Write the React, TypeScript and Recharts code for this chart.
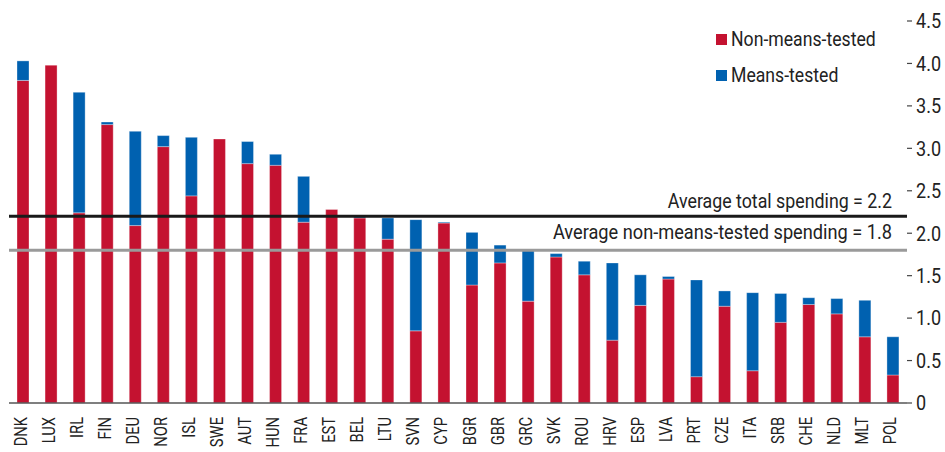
import { BarChart, Bar, XAxis, YAxis, ReferenceLine, Legend } from "recharts"

const COUNTRIES = [
  "DNK", "LUX", "IRL", "FIN", "DEU", "NOR", "ISL", "SWE", "AUT", "HUN", "FRA",
  "EST", "BEL", "LTU", "SVN", "CYP", "BGR", "GBR", "GRC", "SVK", "ROU", "HRV",
  "ESP", "LVA", "PRT", "CZE", "ITA", "SRB", "CHE", "NLD", "MLT", "POL",
]

const NON_MEANS_TESTED = [
  3.8, 3.98, 2.24, 3.28, 2.09, 3.02, 2.44, 3.11, 2.82, 2.8, 2.13,
  2.28, 2.18, 1.93, 0.85, 2.12, 1.39, 1.65, 1.2, 1.72, 1.51, 0.74,
  1.15, 1.46, 0.31, 1.14, 0.38, 0.95, 1.16, 1.05, 0.78, 0.33,
]

const MEANS_TESTED = [
  0.23, 0, 1.42, 0.03, 1.11, 0.13, 0.69, 0, 0.26, 0.13, 0.54,
  0, 0.02, 0.25, 1.31, 0.01, 0.62, 0.21, 0.61, 0.04, 0.16, 0.91,
  0.36, 0.03, 1.14, 0.18, 0.92, 0.34, 0.08, 0.18, 0.43, 0.45,
]

const Y_TICKS = [0, 0.5, 1, 1.5, 2, 2.5, 3, 3.5, 4, 4.5]

const AVG_TOTAL = 2.2
const AVG_NON_MEANS = 1.8

const RED = "#c41230"
const BLUE = "#0061b0"
const INK = "#222222"
const FONT = "Roboto, 'Liberation Sans', sans-serif"

const LEGEND_ITEMS = [
  { label: "Non-means-tested", color: RED },
  { label: "Means-tested", color: BLUE },
]

const data = COUNTRIES.map((country, i) => ({
  country,
  nonMeans: NON_MEANS_TESTED[i],
  means: MEANS_TESTED[i],
}))

// the original uses a condensed face, so squeeze Roboto horizontally
const CountryTick = ({ x, y, payload }: any) => (
  <g transform={`translate(${x},${y}) rotate(-90) scale(0.82,1)`}>
    <text x={-17} y={0} dy={3.5} textAnchor="end" fill={INK} fontSize={18} fontFamily={FONT}>
      {payload.value}
    </text>
  </g>
)

const ValueTick = ({ x, y, payload }: any) => (
  <g transform={`translate(${x},${y}) scale(0.88,1)`}>
    <text x={0} y={0} dy="0.36em" textAnchor="start" fill={INK} fontSize={20.5} fontFamily={FONT}>
      {payload.value === 0 ? "0" : payload.value.toFixed(1)}
    </text>
  </g>
)

const avgLabel = (text: string, lift: number, squeeze: number) => (props: any) => {
  const { viewBox } = props
  return (
    <g transform={`translate(${viewBox.x + viewBox.width - 15},${viewBox.y - lift}) scale(${squeeze},1)`}>
      <text x={0} y={0} textAnchor="end" fill={INK} fontSize={20} fontFamily={FONT}>
        {text}
      </text>
    </g>
  )
}

const LegendContent = () => (
  <div style={{ fontFamily: FONT, fontSize: 21, color: INK, lineHeight: 1 }}>
    {LEGEND_ITEMS.map((item) => (
      <div key={item.label} style={{ display: "flex", alignItems: "center", height: 36 }}>
        <span style={{ width: 11, height: 11, background: item.color, marginRight: 4, display: "inline-block" }} />
        <span style={{ display: "inline-block", transform: "scaleX(0.84)", transformOrigin: "left center", whiteSpace: "nowrap" }}>
          {item.label}
        </span>
      </div>
    ))}
  </div>
)

export default function App() {
  return (
    <div style={{ position: "absolute", left: 0, top: 0, width: 945, height: 452, background: "#fff" }}>
      <BarChart
        width={945}
        height={452}
        data={data}
        margin={{ top: 21, right: 0, bottom: 0, left: 9 }}
        barSize={12}
        style={{ fontFamily: FONT }}
      >
        <XAxis
          dataKey="country"
          interval={0}
          height={49}
          tickSize={0}
          tickMargin={0}
          tickLine={false}
          axisLine={{ stroke: "#555", strokeWidth: 1.5 }}
          tick={<CountryTick />}
        />
        <YAxis
          yAxisId="left"
          orientation="left"
          mirror
          width={0}
          domain={[0, 4.5]}
          ticks={Y_TICKS}
          tick={false}
          tickSize={7}
          axisLine={false}
          tickLine={{ stroke: "#444", strokeWidth: 1.2 }}
        />
        <YAxis
          yAxisId="right"
          orientation="right"
          width={38}
          domain={[0, 4.5]}
          ticks={Y_TICKS}
          tickSize={5}
          tickMargin={4}
          axisLine={false}
          tickLine={{ stroke: "#444", strokeWidth: 1.2 }}
          tick={<ValueTick />}
        />
        <Legend
          layout="vertical"
          align="center"
          verticalAlign="middle"
          wrapperStyle={{ left: 716, top: 21 }}
          content={<LegendContent />}
        />
        <Bar
          yAxisId="right"
          dataKey="nonMeans"
          name="Non-means-tested"
          stackId="a"
          fill={RED}
          stroke="#ffffff"
          strokeOpacity={0.4}
          strokeWidth={0.8}
          isAnimationActive={false}
        />
        <Bar
          yAxisId="right"
          dataKey="means"
          name="Means-tested"
          stackId="a"
          fill={BLUE}
          stroke="#ffffff"
          strokeOpacity={0.4}
          strokeWidth={0.8}
          isAnimationActive={false}
        />
        <ReferenceLine
          yAxisId="right"
          y={AVG_TOTAL}
          stroke="#1a1a1a"
          strokeWidth={3}
          label={avgLabel(`Average total spending = ${AVG_TOTAL}`, 8, 0.89)}
        />
        <ReferenceLine
          yAxisId="right"
          y={AVG_NON_MEANS}
          stroke="#9a9a9a"
          strokeWidth={3}
          label={avgLabel(`Average non-means-tested spending = ${AVG_NON_MEANS}`, 11, 0.91)}
        />
      </BarChart>
    </div>
  )
}
